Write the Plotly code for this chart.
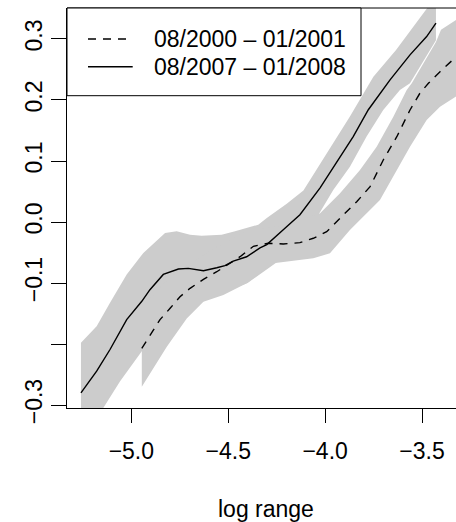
import plotly.graph_objects as go

# ---- data ----
# 08/2007 - 01/2008 (solid)
x07 = [-5.26, -5.179, -5.11, -5.024, -4.946, -4.904, -4.835, -4.757, -4.706, -4.628,
       -4.559, -4.517, -4.474, -4.405, -4.336, -4.301, -4.216, -4.13, -4.026, -3.923,
       -3.855, -3.777, -3.665, -3.562, -3.476, -3.428]
y07 = [-0.280, -0.2445, -0.209, -0.160, -0.130, -0.111, -0.086, -0.077, -0.076, -0.080,
       -0.075, -0.0715, -0.064, -0.057, -0.0425, -0.037, -0.0126, 0.012, 0.056, 0.107,
       0.140, 0.184, 0.233, 0.274, 0.304, 0.326]
band07_upper_x = [-5.26, -5.179, -5.11, -5.024, -4.938, -4.826, -4.766, -4.697, -4.637, -4.534,
                  -4.465, -4.345, -4.301, -4.198, -4.112, -4.043, -3.958, -3.872, -3.803, -3.751,
                  -3.634, -3.531, -3.479, -3.428]
band07_upper_y = [-0.198, -0.171, -0.1325, -0.086, -0.0507, -0.018, -0.0153, -0.0207, -0.0224, -0.0207,
                  -0.0153, -0.0044, 0.0066, 0.030, 0.0518, 0.0856, 0.1293, 0.1729, 0.2111, 0.2383,
                  0.282, 0.3257, 0.347, 0.37]
band07_lower_x = [-5.26, -5.145, -5.058, -4.946, -4.8, -4.6, -4.4, -4.2, -4.035, -3.958,
                  -3.872, -3.786, -3.700, -3.614, -3.562, -3.428]
band07_lower_y = [-0.37, -0.305, -0.261, -0.212, -0.16, -0.125, -0.10, -0.055, 0.0115, 0.0525,
                  0.0907, 0.140, 0.1836, 0.2164, 0.2274, 0.298]

# 08/2000 - 01/2001 (dashed)
x00 = [-4.946, -4.904, -4.852, -4.800, -4.749, -4.697, -4.628, -4.559, -4.491, -4.439,
       -4.370, -4.293, -4.216, -4.130, -4.061, -3.992, -3.906, -3.837, -3.768, -3.700,
       -3.630, -3.562, -3.511, -3.467, -3.407, -3.32]
y00 = [-0.207, -0.185, -0.160, -0.1415, -0.1225, -0.1087, -0.094, -0.0815, -0.0677, -0.0569,
       -0.0398, -0.0349, -0.036, -0.0339, -0.0267, -0.0159, 0.0115, 0.0333, 0.0579, 0.1016,
       0.1398, 0.1836, 0.211, 0.2274, 0.2464, 0.272]
band00_upper_x = [-4.946, -4.8, -4.6, -4.4, -4.2, -4.026, -3.923, -3.820, -3.734, -3.648,
                  -3.579, -3.553, -3.428, -3.402, -3.32]
band00_upper_y = [-0.14, -0.09, -0.048, -0.013, -0.005, 0.0143, 0.047, 0.0852, 0.1234, 0.1726,
                  0.2164, 0.2274, 0.295, 0.315, 0.332]
band00_lower_x = [-4.946, -4.817, -4.714, -4.628, -4.525, -4.405, -4.267, -4.181, -4.061, -3.975,
                  -3.872, -3.717, -3.630, -3.562, -3.476, -3.407, -3.32]
band00_lower_y = [-0.270, -0.2044, -0.158, -0.1307, -0.1197, -0.1005, -0.0677, -0.065, -0.0595, -0.0513,
                  -0.0131, 0.036, 0.0852, 0.1234, 0.1672, 0.189, 0.2065]

legend_labels = ["08/2000 \u2013 01/2001", "08/2007 \u2013 01/2008"]
x_tickvals = [-5.0, -4.5, -4.0, -3.5]
x_ticktext = ["\u22125.0", "\u22124.5", "\u22124.0", "\u22123.5"]
y_tickvals = [-0.3, -0.2, -0.1, 0.0, 0.1, 0.2, 0.3]
y_ticktext = ["\u22120.3", "", "\u22120.1", "0.0", "0.1", "0.2", "0.3"]
x_title = "log range"

BAND = "#CCCCCC"
FONT = "Liberation Sans, Arial, Helvetica, sans-serif"
FS = 23

fig = go.Figure()


def band(ux, uy, lx, ly):
    return go.Scatter(x=list(ux) + list(lx)[::-1], y=list(uy) + list(ly)[::-1],
                      fill="toself", fillcolor=BAND, line=dict(width=0, color=BAND),
                      mode="lines", hoverinfo="skip", showlegend=False)


fig.add_trace(band(band07_upper_x, band07_upper_y, band07_lower_x, band07_lower_y))
fig.add_trace(band(band00_upper_x, band00_upper_y, band00_lower_x, band00_lower_y))
fig.add_trace(go.Scatter(x=x00, y=y00, mode="lines", name=legend_labels[0],
                         line=dict(color="black", width=1.4, dash="8px,7px"), showlegend=False))
fig.add_trace(go.Scatter(x=x07, y=y07, mode="lines", name=legend_labels[1],
                         line=dict(color="black", width=1.4), showlegend=False))

L, T, W, H = 67, 8, 389, 400


def px(xp):
    return (xp - L) / W


def py(yp):
    return (T + H - yp) / H


shapes = [
    # top border of the box
    dict(type="line", xref="paper", yref="paper", x0=0, x1=1, y0=1, y1=1,
         line=dict(color="black", width=1)),
    # legend box
    dict(type="rect", xref="paper", yref="paper", x0=0, x1=px(361), y0=py(95.7), y1=1,
         fillcolor="white", line=dict(color="black", width=1), layer="above"),
    dict(type="line", xref="paper", yref="paper", x0=px(88), x1=px(127), y0=py(39), y1=py(39),
         line=dict(color="black", width=1.4, dash="8px,7px"), layer="above"),
    dict(type="line", xref="paper", yref="paper", x0=px(88), x1=px(132.7), y0=py(66.7), y1=py(66.7),
         line=dict(color="black", width=1.4), layer="above"),
]

annotations = [
    dict(text=legend_labels[0], xref="paper", yref="paper", x=px(152), y=py(39),
         xanchor="left", yanchor="middle", showarrow=False, font=dict(size=FS, color="black", family=FONT)),
    dict(text=legend_labels[1], xref="paper", yref="paper", x=px(152), y=py(66.7),
         xanchor="left", yanchor="middle", showarrow=False, font=dict(size=FS, color="black", family=FONT)),
    dict(text=x_title, xref="paper", yref="paper", x=px(265.8), y=py(509),
         xanchor="center", yanchor="middle", showarrow=False, font=dict(size=FS, color="black", family=FONT)),
]

fig.update_layout(
    width=456, height=522,
    margin=dict(l=L, r=0, t=T, b=522 - T - H, pad=0),
    paper_bgcolor="white", plot_bgcolor="white",
    font=dict(family=FONT, size=FS, color="black"),
    shapes=shapes, annotations=annotations,
    xaxis=dict(range=[-5.332, -3.3246], tickvals=x_tickvals, ticktext=x_ticktext,
               ticks="outside", ticklen=14, tickwidth=1, tickcolor="black",
               showline=True, linecolor="black", linewidth=1, mirror=False,
               showgrid=False, zeroline=False, ticklabelstandoff=8),
    yaxis=dict(range=[-0.3049, 0.3508], tickvals=y_tickvals, ticktext=y_ticktext,
               ticks="outside", ticklen=15, tickwidth=1, tickcolor="black", tickangle=-90,
               showline=True, linecolor="black", linewidth=1, mirror=False,
               showgrid=False, zeroline=False, ticklabelstandoff=0),
)

fig.write_html("out.html")
